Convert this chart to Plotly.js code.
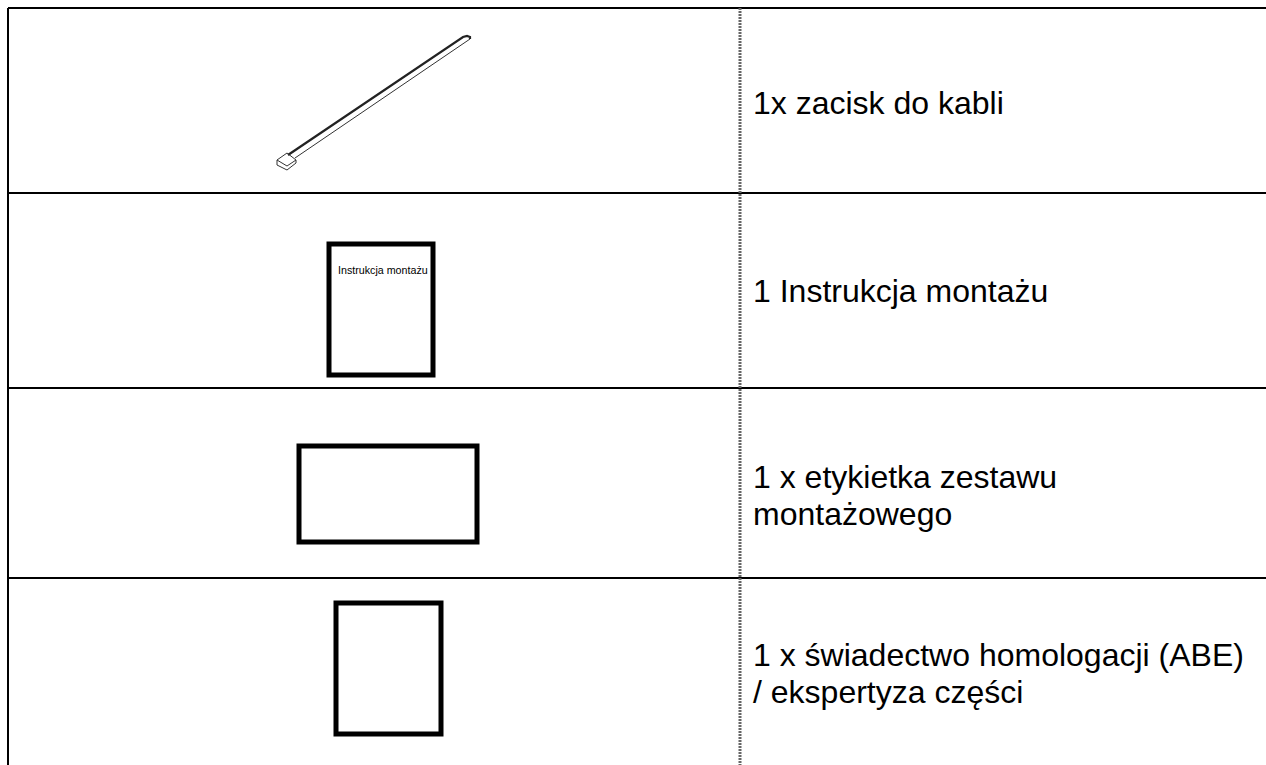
<!DOCTYPE html>
<html><head><meta charset="utf-8">
<script src="https://cdn.plot.ly/plotly-3.0.1.min.js"></script>
<style>html,body{margin:0;padding:0;background:#fff}</style></head>
<body><div id="chart" style="width:1266px;height:765px"></div>
<script>
var rowLinesY = [8, 193, 388, 578];
var tableLeft = 8, tableRight = 1266, tableBottom = 765;
var dividerX = 740;
var labelLines = ["1x zacisk do kabli", "1 Instrukcja montażu", "1 x etykietka zestawu", "montażowego", "1 x świadectwo homologacji (ABE)", "/ ekspertyza części"];
var labelLineY = [103, 291, 477, 514, 655, 692];
var labelX = 751;
var manualBoxX = [329, 433, 433, 329, 329, 433];
var manualBoxY = [244, 244, 375, 375, 244, 244];
var labelBoxX = [299, 477, 477, 299, 299, 477];
var labelBoxY = [446, 446, 542, 542, 446, 446];
var certBoxX = [336, 441, 441, 336, 336, 441];
var certBoxY = [603, 603, 734, 734, 603, 603];
var tieUpperX = [288, 463, 467, 470, 470];
var tieUpperY = [155, 37, 36, 37, 39];
var tieLowerX = [295, 470];
var tieLowerY = [158, 39];
var tieHeadX = [277, 287, 296, 296, 287, 277, 277];
var tieHeadY = [160, 153, 160, 163, 170, 165, 160];
var tieHeadInnerX = [277, 287, 296];
var tieHeadInnerY = [160, 166, 160];

function line(x, y, w, c, dash) {
  return {x: x, y: y, type: 'scatter', mode: 'lines', hoverinfo: 'skip', showlegend: false,
    line: {color: c || '#000', width: w, dash: dash || 'solid'}};
}
var traces = [];
rowLinesY.forEach(function (y) { traces.push(line([tableLeft, tableRight], [y, y], 2)); });
traces.push(line([tableLeft, tableLeft], [rowLinesY[0], tableBottom], 2));
traces.push(line([dividerX, dividerX], [rowLinesY[0], tableBottom], 3, '#666', '2px 1px'));
traces.push(line(manualBoxX, manualBoxY, 5));
traces.push(line(labelBoxX, labelBoxY, 5));
traces.push(line(certBoxX, certBoxY, 5));
traces.push(line(tieUpperX, tieUpperY, 2.2, '#222'));
traces.push(line(tieLowerX, tieLowerY, 1, '#333'));
traces.push(line(tieHeadX, tieHeadY, 1, '#333'));
traces.push(line(tieHeadInnerX, tieHeadInnerY, 1, '#333'));

var annotations = labelLines.map(function (t, i) {
  return {x: labelX, y: labelLineY[i], xref: 'x', yref: 'y', text: t, showarrow: false, xanchor: 'left', yanchor: 'middle',
    align: 'left', font: {family: '"Liberation Sans", Arial, sans-serif', size: 32, color: '#000'}};
});
annotations.push({x: 383, y: 270, xref: 'x', yref: 'y', text: 'Instrukcja montażu', showarrow: false, xanchor: 'center', yanchor: 'middle',
  font: {family: '"Liberation Sans", Arial, sans-serif', size: 10.7, color: '#000'}});

Plotly.newPlot('chart', traces, {
  width: 1266, height: 765, margin: {l: 0, r: 0, t: 0, b: 0}, paper_bgcolor: '#fff', plot_bgcolor: '#fff',
  xaxis: {range: [0, 1266], visible: false, fixedrange: true},
  yaxis: {range: [765, 0], visible: false, fixedrange: true},
  annotations: annotations
}, {displayModeBar: false, staticPlot: true});
</script></body></html>
